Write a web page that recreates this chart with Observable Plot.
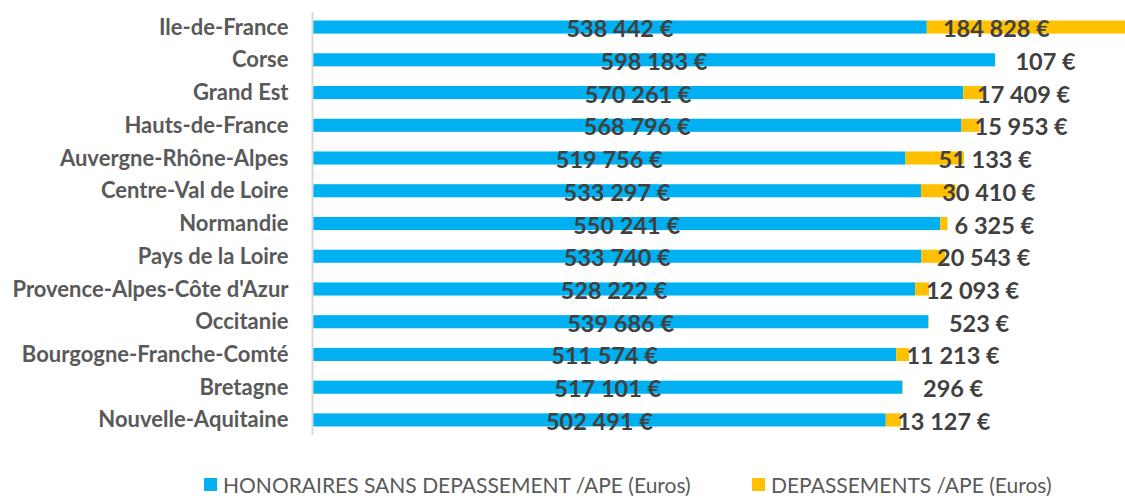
<!DOCTYPE html>
<html>
<head>
<meta charset="utf-8">
<script src="https://cdn.jsdelivr.net/npm/d3@7"></script>
<script src="https://cdn.jsdelivr.net/npm/@observablehq/plot@0.6"></script>
<style>
  body { margin: 0; background: #fff; font-family: Lato, "Open Sans", sans-serif; }
  #chart { position: relative; width: 1125px; height: 496px; overflow: hidden; }
  .legend { position: absolute; top: 472px; left: 0; width: 1125px; height: 24px; font-family: Lato, sans-serif; font-size: 21px; color: #595959; }
  .legend .item { position: absolute; top: 0; display: flex; align-items: center; white-space: nowrap; }
  .legend .sw { width: 13px; height: 13px; margin-right: 6px; display: inline-block; }
</style>
</head>
<body>
<div id="chart"></div>
<script>
const regions = [
  "Ile-de-France", "Corse", "Grand Est", "Hauts-de-France", "Auvergne-Rhône-Alpes",
  "Centre-Val de Loire", "Normandie", "Pays de la Loire", "Provence-Alpes-Côte d'Azur",
  "Occitanie", "Bourgogne-Franche-Comté", "Bretagne", "Nouvelle-Aquitaine"
];
const honoraires = [538442, 598183, 570261, 568796, 519756, 533297, 550241, 533740, 528222, 539686, 511574, 517101, 502491];
const depassements = [184828, 107, 17409, 15953, 51133, 30410, 6325, 20543, 12093, 523, 11213, 296, 13127];
const seriesNames = ["HONORAIRES SANS DEPASSEMENT /APE (Euros)", "DEPASSEMENTS /APE (Euros)"];
const colors = ["#00B0F0", "#FFC000"];

const xMax = 712000;
const rows = regions.map((r, i) => ({
  region: r,
  blue: honoraires[i],
  dep: depassements[i],
  total: honoraires[i] + depassements[i]
}));

const fmt = v => String(v).replace(/\B(?=(\d{3})+(?!\d))/g, " ") + " €";

const plot = Plot.plot({
  width: 1125,
  height: 450,
  marginLeft: 312,
  marginRight: 0,
  marginTop: 12,
  marginBottom: 15,
  style: { fontFamily: "Lato, sans-serif", background: "#fff", overflow: "hidden" },
  x: { domain: [0, xMax], axis: null },
  y: { domain: regions, paddingInner: 0.6, paddingOuter: 0.26, round: false, label: null },
  marks: [
    Plot.barX(rows, { y: "region", x1: 0, x2: "blue", fill: colors[0] }),
    Plot.barX(rows, { y: "region", x1: "blue", x2: "total", fill: colors[1], clip: true }),
    Plot.ruleX([0], { stroke: "#D9D9D9", strokeWidth: 2 }),
    Plot.axisY({ tickSize: 0, tickPadding: 24, fontSize: 22, fontWeight: "bold", fill: "#595959", label: null }),
    Plot.text(rows, { y: "region", x: d => d.blue / 2, text: d => fmt(d.blue), fontSize: 23.5, fontWeight: "bold", fill: "#404040", dy: 2 }),
    Plot.text(rows.filter(d => d.total <= xMax), { y: "region", x: d => d.blue + d.dep / 2, text: d => fmt(d.dep), fontSize: 23.5, fontWeight: "bold", fill: "#404040", dx: 50, dy: 2 }),
    Plot.text(rows.filter(d => d.total > xMax), { y: "region", x: "blue", text: d => fmt(d.dep), fontSize: 23.5, fontWeight: "bold", fill: "#404040", dx: 69, dy: 2 })
  ]
});

const chart = document.getElementById("chart");
chart.appendChild(plot);

const legend = document.createElement("div");
legend.className = "legend";
const lefts = [204, 752];
seriesNames.forEach((name, i) => {
  const item = document.createElement("div");
  item.className = "item";
  item.style.left = lefts[i] + "px";
  const sw = document.createElement("span");
  sw.className = "sw";
  sw.style.background = colors[i];
  const t = document.createElement("span");
  t.textContent = name;
  item.appendChild(sw);
  item.appendChild(t);
  legend.appendChild(item);
});
chart.appendChild(legend);
</script>
</body>
</html>
